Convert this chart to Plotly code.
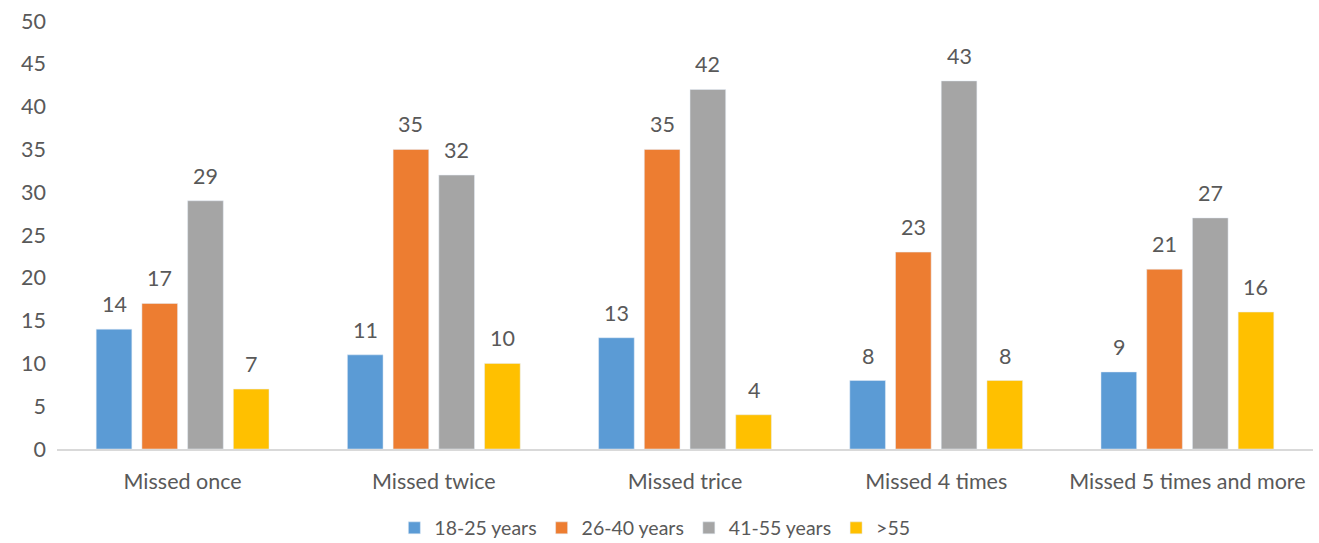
import plotly.graph_objects as go

categories = ["Missed once", "Missed twice", "Missed trice", "Missed 4 times", "Missed 5 times and more"]
series_names = ["18-25 years", "26-40 years", "41-55 years", ">55"]
v_18_25 = [14, 11, 13, 8, 9]
v_26_40 = [17, 35, 35, 23, 21]
v_41_55 = [29, 32, 42, 43, 27]
v_55 = [7, 10, 4, 8, 16]
colors = ["#5B9BD5", "#ED7D31", "#A5A5A5", "#FFC000"]

font = "Lato, 'Open Sans', sans-serif"
txt = "#595959"
fs = 21.5
slot_px = 45.7

fig = go.Figure()
all_series = [v_18_25, v_26_40, v_41_55, v_55]
for i, (name, vals, c) in enumerate(zip(series_names, all_series, colors)):
    fig.add_trace(go.Bar(x=categories, y=vals, name=name, marker_color=c))
    for cat, v in zip(categories, vals):
        fig.add_annotation(x=cat, y=v, text=str(v), showarrow=False,
                           yanchor="bottom", yshift=10, xshift=(i - 1.5) * slot_px,
                           font=dict(size=fs, color=txt, family=font))

fig.update_layout(
    width=1319, height=543,
    margin=dict(l=57, r=6, t=21, b=94, autoexpand=False),
    paper_bgcolor="white", plot_bgcolor="white",
    barmode="group", bargap=0.272, bargroupgap=0.22,
    font=dict(family=font, size=fs, color=txt),
    showlegend=True,
    legend=dict(orientation="h", x=0.476, xanchor="center", y=-0.185, yanchor="middle",
                font=dict(size=19.5, color=txt, family=font), itemwidth=30,
                traceorder="normal"),
    xaxis=dict(showgrid=False, showline=True, linecolor="#D9D9D9", linewidth=1.5,
               ticks="", tickfont=dict(size=fs, color=txt, family=font),
               ticklabelstandoff=12, automargin=False),
    yaxis=dict(range=[0, 50], dtick=5, showgrid=False, zeroline=False, showline=False,
               tickfont=dict(size=fs, color=txt, family=font), ticklabelstandoff=10,
               automargin=False),
)

fig.write_html("out.html")
